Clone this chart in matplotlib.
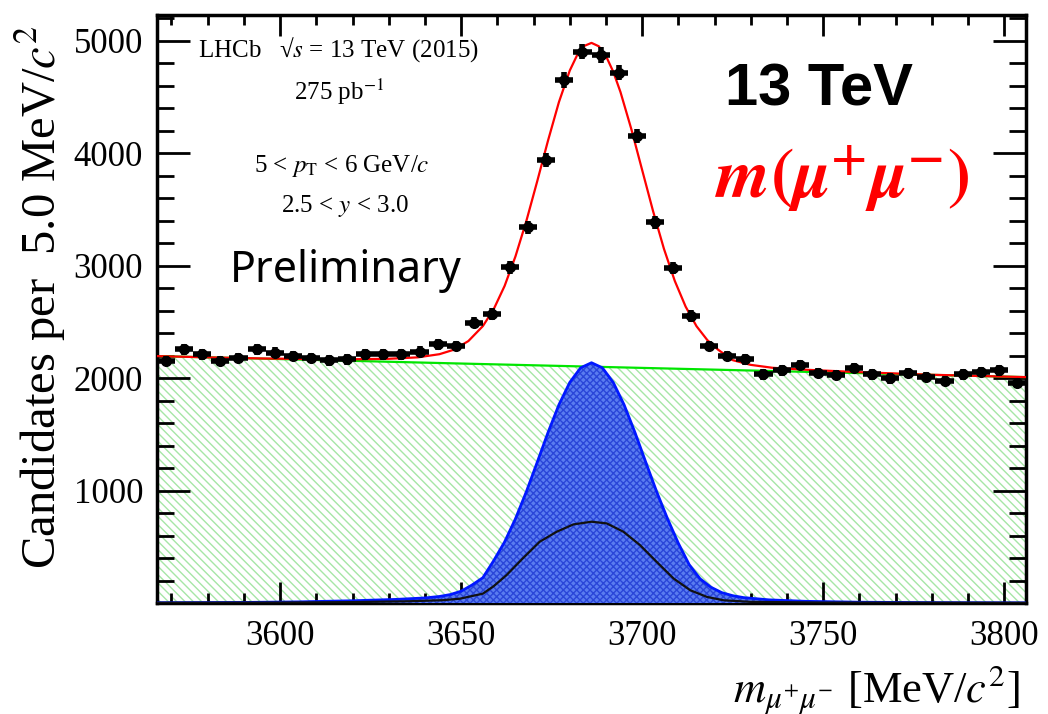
import numpy as np
import matplotlib
matplotlib.use("Agg")
import matplotlib.pyplot as plt

plt.rcParams["font.family"] = ["Liberation Serif", "DejaVu Serif"]
plt.rcParams["mathtext.fontset"] = "stix"
plt.rcParams["hatch.linewidth"] = 1.0

# binned data, 5 MeV bins
bin_centers = np.arange(3568.5, 3806.0, 5.0)
counts = np.array([2152, 2256, 2211, 2152, 2181, 2256, 2226, 2196, 2181, 2158,
                   2167, 2211, 2211, 2211, 2235, 2300, 2286, 2494, 2569, 2985,
                   3342, 3938, 4652, 4905, 4875, 4717, 4152, 3387, 2979, 2554,
                   2286, 2196, 2167, 2033, 2068, 2116, 2047, 2027, 2092, 2033,
                   1997, 2047, 2009, 1979, 2033, 2057, 2068, 1958])

# total fit
fit_m = [3566, 3580, 3595, 3610, 3620, 3630, 3638, 3644, 3648, 3652, 3656, 3659,
         3662, 3665, 3668, 3671, 3674, 3677, 3680, 3682, 3684, 3686, 3688, 3690,
         3692, 3694, 3697, 3700, 3703, 3706, 3709, 3712, 3715, 3718, 3721, 3725,
         3730, 3736, 3745, 3760, 3780, 3806]
fit_total = [2196, 2185, 2175, 2169, 2168, 2172, 2185, 2213, 2253, 2330, 2463, 2614,
             2820, 3083, 3397, 3750, 4114, 4455, 4736, 4871, 4955, 4982, 4952, 4865,
             4726, 4545, 4215, 3850, 3486, 3151, 2865, 2636, 2462, 2338, 2252, 2160,
             2118, 2092, 2075, 2053, 2030, 2009]

# combinatorial background
bkg_m = [3566, 3606, 3646, 3686, 3726, 3766, 3806]
bkg = [2196, 2165, 2133, 2102, 2071, 2040, 2009]

# signal component
sig_m = [3566, 3590, 3605, 3620, 3632, 3640, 3644, 3647, 3650, 3653, 3656, 3659,
         3662, 3665, 3668, 3671, 3674, 3677, 3680, 3683, 3686, 3689, 3692, 3695,
         3698, 3701, 3704, 3707, 3710, 3713, 3716, 3719, 3722, 3725, 3728, 3735,
         3745, 3760, 3780, 3806]
sig = [2, 5, 10, 20, 32, 45, 58, 75, 105, 160, 225, 377,
       543, 749, 989, 1251, 1517, 1763, 1962, 2092, 2137, 2092, 1962, 1763,
       1517, 1251, 989, 749, 530, 340, 215, 140, 92, 65, 48, 28,
       15, 7, 3, 1]

# from-b component
fromb_m = [3566, 3600, 3620, 3635, 3645, 3649.6, 3656, 3659, 3662.5, 3667, 3671.7,
           3676.4, 3681, 3686, 3690.2, 3694.8, 3699.4, 3704, 3708.7, 3713.3,
           3717.9, 3722.5, 3730, 3750, 3806]
fromb = [2, 4, 8, 15, 25, 38, 83, 150, 247, 396, 545,
         634, 699, 723, 708, 634, 515, 366, 217, 113,
         54, 24, 10, 4, 1]

fig = plt.figure(figsize=(10.48, 7.14), dpi=100)
ax = fig.add_axes([157 / 1048, 111 / 714, 869 / 1048, 588 / 714])

ax.fill_between(bkg_m, 0, bkg, facecolor="white", edgecolor="#a6e6a6",
                hatch="\\\\\\\\", linewidth=0, zorder=1)
ax.plot(bkg_m, bkg, color="#00e600", lw=1.6, zorder=2)
ax.fill_between(sig_m, 0, sig, facecolor="#5a7cf0", edgecolor="#2a46d8",
                hatch="xxxxx", linewidth=0, zorder=3)
ax.plot(sig_m, sig, color="#0018ff", lw=2.0, zorder=4)
ax.plot(fromb_m, fromb, color="#111111", lw=1.6, zorder=5)
ax.plot(fit_m, fit_total, color="#ff0000", lw=1.6, zorder=6)
ax.errorbar(bin_centers, counts, xerr=2.5, yerr=np.sqrt(counts), fmt="o",
            color="black", ms=7, elinewidth=4, capsize=0, zorder=7)

ax.set_xlim(3566, 3806)
ax.set_ylim(0, 5230)
ax.set_xticks(np.arange(3600, 3801, 50))
ax.set_xticks(np.arange(3570, 3806, 10), minor=True)
ax.set_yticks(np.arange(1000, 5001, 1000))
ax.set_yticks(np.arange(200, 5230, 200), minor=True)
ax.tick_params(which="both", direction="in", top=True, right=True,
               labelsize=25, width=2, colors="black")
ax.tick_params(axis="y", which="major", length=24, pad=10)
ax.tick_params(axis="y", which="minor", length=12)
ax.tick_params(axis="x", which="major", length=15, pad=12)
ax.tick_params(axis="x", which="minor", length=7)
for s in ax.spines.values():
    s.set_linewidth(2.5)

ax.set_ylabel(r"Candidates per  5.0 MeV/$c^{2}$", fontsize=35)
ax.yaxis.set_label_coords(-0.102, 0.52)
fig.text(1020 / 1048, 1 - 702 / 714, r"$m_{\mu^{+}\mu^{-}}$ [MeV/$c^{2}$]",
         fontsize=32, ha="right", va="baseline")

# experiment labels
fig.text(198 / 1048, 1 - 57 / 714, r"LHCb   √$s$ = 13 TeV (2015)",
         fontsize=18, ha="left", va="baseline")
fig.text(339 / 1048, 1 - 100 / 714, r"275 pb$^{-1}$", fontsize=18,
         ha="center", va="baseline")
fig.text(342 / 1048, 1 - 172 / 714, r"5 < $p_{\mathrm{T}}$ < 6 GeV/$c$",
         fontsize=18, ha="center", va="baseline")
fig.text(345 / 1048, 1 - 212 / 714, r"2.5 < $y$ < 3.0", fontsize=18,
         ha="center", va="baseline")

fig.text(230 / 1048, 1 - 282 / 714, "Preliminary", family="Noto Sans",
         fontsize=31, ha="left", va="baseline")
fig.text(819 / 1048, 1 - 105 / 714, "13 TeV", family="Liberation Sans",
         fontweight="bold", fontsize=43, ha="center", va="baseline")
fig.text(842 / 1048, 1 - 198 / 714,
         r"$\mathbfit{m}\mathbf{(}\mathbfit{\mu}^{\mathbf{+}}\mathbfit{\mu}^{\mathbf{-}}\mathbf{)}$",
         color="#ff0000", fontsize=50, ha="center", va="baseline")

fig.savefig("out.png", dpi=100)
